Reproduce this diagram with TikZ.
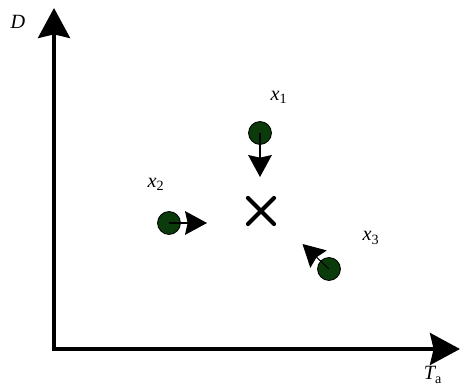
\documentclass[tikz,border=0pt]{standalone}
\usepackage{fontspec}
\setmainfont{Liberation Serif}
\usetikzlibrary{arrows.meta}
\definecolor{dotgreen}{HTML}{0B3B0B}

\begin{document}
\begin{tikzpicture}[x=0.02cm, y=-0.02cm,
	axis/.style={line width=2.8pt, {Stealth[length=17pt,width=18pt,inset=2pt]}-{Stealth[length=17pt,width=18pt,inset=2pt]}},
	point/.style={circle, draw=black, line width=0.5pt, fill=dotgreen, minimum size=13pt, inner sep=0pt},
	move/.style={line width=0.6pt, -{Stealth[length=12.5pt,width=13.5pt,inset=1.5pt]}},
	lbl/.style={font=\fontsize{11.5}{13}\selectfont}]
	\useasboundingbox (0,0) rectangle (460,384);
	% axes
	\coordinate (top) at (54,8);
	\coordinate (orig) at (54,349);
	\coordinate (right) at (460,349);
	\draw[axis] (top) -- (orig) -- (right);
	\node[lbl] (labD) at (18,22) {\itshape D};
	\node[lbl] (labT) at (433,375) {\itshape T\textsubscript{\upshape a}};
	% target
	\node (target) at (261,211) {};
	\draw[line width=2.4pt, line cap=round] (248,198) -- (274,224);
	\draw[line width=2.4pt, line cap=round] (248,224) -- (274,198);
	% points and their moves
	\node[point] (p1) at (260,133) {};
	\node[point] (p2) at (169,223) {};
	\node[point] (p3) at (329,269) {};
	\coordinate (t1) at (260,177);
	\coordinate (t2) at (207,223);
	\coordinate (t3) at (302.5,244);
	\draw[move] (p1.center) -- (t1);
	\draw[move] (p2.center) -- (t2);
	\draw[move] (p3.center) -- (t3);
	\node[lbl] (lab1) at (279,97) {\itshape x\textsubscript{\upshape 1}};
	\node[lbl] (lab2) at (156,184) {\itshape x\textsubscript{\upshape 2}};
	\node[lbl] (lab3) at (371,238) {\itshape x\textsubscript{\upshape 3}};
\end{tikzpicture}
\end{document}
